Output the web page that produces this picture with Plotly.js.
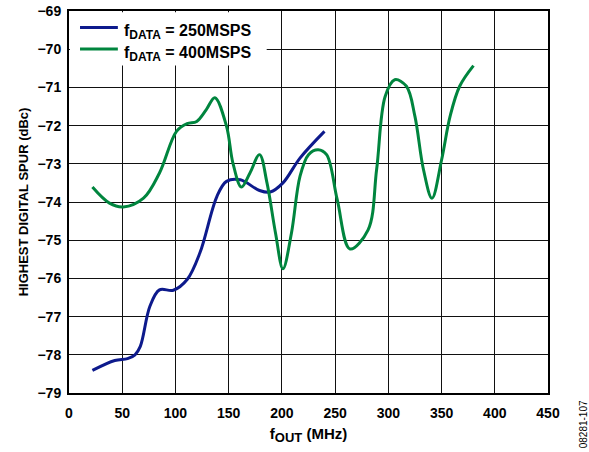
<!DOCTYPE html>
<html><head><meta charset="utf-8">
<script src="https://cdn.plot.ly/plotly-3.0.1.min.js"></script>
<style>body{margin:0;background:#fff}#c{width:589px;height:452px}</style>
</head><body><div id="c"></div>
<script>
const fout250 = [22, 43, 55, 62, 67, 76, 85, 98, 111, 123, 139, 148, 161, 179, 189, 201, 217, 240];
const spur250 = [-78.41, -78.15, -78.1, -78.0, -77.78, -76.73, -76.3, -76.31, -76.03, -75.33, -73.85, -73.46, -73.42, -73.7, -73.74, -73.5, -72.85, -72.15];
const fout400 = [22, 38, 51, 70, 85, 101, 111, 120, 129, 137, 148, 154, 162, 170, 179, 186, 194, 201, 209, 217, 225, 234, 242, 252, 264, 281, 289, 297, 306, 317, 325, 333, 341, 350, 358, 367, 380];
const spur400 = [-73.61, -74.03, -74.13, -73.9, -73.24, -72.15, -71.95, -71.89, -71.58, -71.27, -72.02, -72.98, -73.61, -73.24, -72.76, -73.5, -74.81, -75.75, -74.81, -73.33, -72.76, -72.63, -72.76, -73.94, -75.23, -74.73, -73.15, -71.24, -70.8, -70.97, -71.76, -73.15, -73.9, -72.9, -71.76, -70.97, -70.43];
const seriesNames = ['<b>f<sub><span style="font-size:12px">DATA</span></sub> = 250MSPS</b>',
                     '<b>f<sub><span style="font-size:12px">DATA</span></sub> = 400MSPS</b>'];
const seriesColors = ['#0d1a8c', '#00853e'];
const yTicks = [-79, -78, -77, -76, -75, -74, -73, -72, -71, -70, -69];
const yTickText = yTicks.map(v => '\u2212' + Math.abs(v));
const xTicks = [0, 50, 100, 150, 200, 250, 300, 350, 400, 450];

const F = 'Liberation Sans, Arial, sans-serif';
const traces = [
  {x: fout250, y: spur250, mode: 'lines', name: 'fDATA = 250MSPS', showlegend: false,
   line: {color: seriesColors[0], width: 3, shape: 'spline', smoothing: 1}},
  {x: fout400, y: spur400, mode: 'lines', name: 'fDATA = 400MSPS', showlegend: false,
   line: {color: seriesColors[1], width: 3, shape: 'spline', smoothing: 1}}
];
// manual legend (box + samples + labels), in paper coordinates
const legRowY = [0.957, 0.9005];
const shapes = [
  {type: 'rect', xref: 'paper', yref: 'paper', x0: 0.002, x1: 0.4127, y0: 0.8576, y1: 0.997,
   fillcolor: '#fff', line: {width: 0}, layer: 'above'}
];
const annotations = [];
seriesNames.forEach((n, i) => {
  shapes.push({type: 'line', xref: 'paper', yref: 'paper', x0: 0.023, x1: 0.102,
               y0: legRowY[i], y1: legRowY[i], line: {color: seriesColors[i], width: 3}, layer: 'above'});
  annotations.push({text: n, xref: 'paper', yref: 'paper', x: 0.11, y: legRowY[i] - 0.012,
                    xanchor: 'left', yanchor: 'middle', showarrow: false,
                    font: {family: F, size: 16, color: '#000'}});
});
annotations.push({text: '08281-107', xref: 'paper', yref: 'paper', x: 1.073, y: -0.15,
                  xanchor: 'center', yanchor: 'bottom', textangle: -90, showarrow: false,
                  font: {family: F, size: 10, color: '#000'}});

const layout = {
  width: 589, height: 452,
  margin: {l: 69, r: 41, t: 11, b: 59},
  paper_bgcolor: '#fff', plot_bgcolor: '#fff',
  font: {family: F, color: '#000', size: 14},
  showlegend: false,
  xaxis: {range: [0, 450], tickvals: xTicks, ticktext: xTicks.map(v => '<b>' + v + '</b>'),
          showgrid: true, gridcolor: '#111', gridwidth: 1, zeroline: false,
          showline: true, linecolor: '#000', linewidth: 2, mirror: true, ticks: '',
          ticklabelstandoff: 6,
          tickfont: {family: F, size: 14},
          title: {text: '<b>f<sub><span style="font-size:13px">OUT</span></sub> (MHz)</b>', font: {family: F, size: 15}, standoff: 9}},
  yaxis: {range: [-79, -69], tickvals: yTicks, ticktext: yTickText.map(t => '<b>' + t + '</b>'),
          showgrid: true, gridcolor: '#111', gridwidth: 1, zeroline: false,
          showline: true, linecolor: '#000', linewidth: 2, mirror: true, ticks: '',
          ticklabelstandoff: 3,
          tickfont: {family: F, size: 14},
          title: {text: '<b>HIGHEST DIGITAL SPUR (dBc)</b>', font: {family: F, size: 13}, standoff: 6}},
  shapes: shapes,
  annotations: annotations
};
Plotly.newPlot('c', traces, layout, {staticPlot: true, displayModeBar: false});
</script></body></html>
